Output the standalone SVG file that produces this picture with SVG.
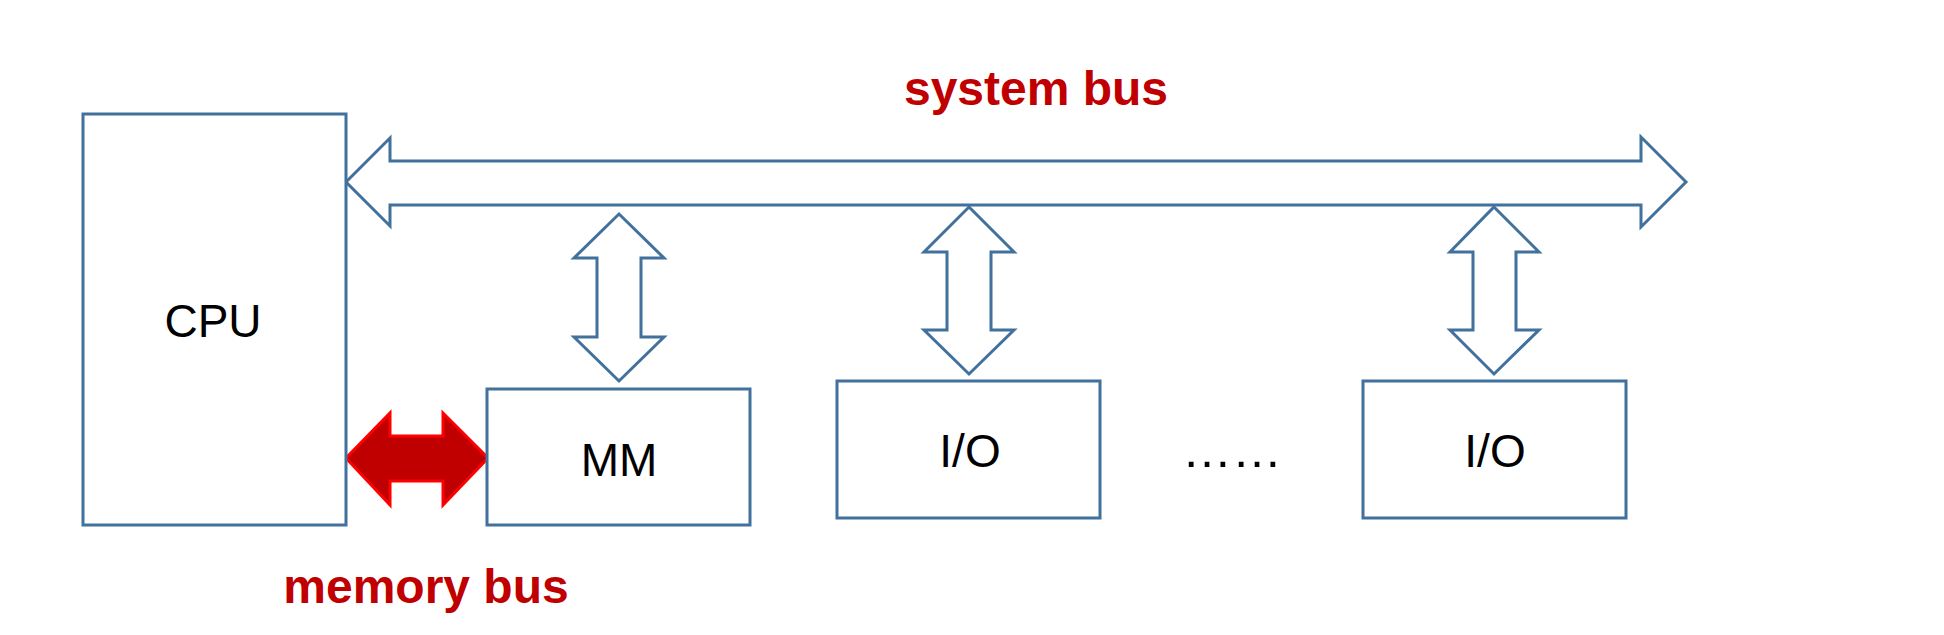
<svg xmlns="http://www.w3.org/2000/svg" width="1944" height="635" viewBox="0 0 1944 635">
<style>
.box{fill:#fff;stroke:#41719C;stroke-width:3}
.arr{fill:#fff;stroke:#41719C;stroke-width:3;stroke-linejoin:miter}
.lbl{font-family:"Liberation Sans",Arial,sans-serif;font-size:46px;fill:#000;text-anchor:middle}
.red{font-family:"Liberation Sans",Arial,sans-serif;font-size:48px;font-weight:bold;fill:#C00000;text-anchor:middle}
</style>
<rect width="1944" height="635" fill="#fff"/>
<g id="connectors">
<path class="arr" d="M346,182 L390,138 L390,161 L1641,161 L1641,137 L1686,182 L1641,227 L1641,205 L390,205 L390,226 Z"/>
<path class="arr" d="M619,214 L664,258 L641,258 L641,337 L664,337 L619,381 L574,337 L597,337 L597,258 L574,258 Z"/>
<path class="arr" d="M969,207 L1014,252 L991,252 L991,330 L1014,330 L969,374 L924,330 L947,330 L947,252 L924,252 Z"/>
<path class="arr" d="M1494,207 L1539,252 L1516,252 L1516,330 L1539,330 L1494,374 L1450,330 L1473,330 L1473,252 L1450,252 Z"/>
<path d="M346,458 L390,413 L390,436 L443,436 L443,413 L488,458 L443,505 L443,481 L390,481 L390,505 Z" fill="#C00000" stroke="#FF0000" stroke-width="3"/>
</g>
<g id="cpu">
<rect class="box" x="83" y="114" width="263" height="411"/>
<text class="lbl" x="213" y="337">CPU</text>
</g>
<g id="mm">
<rect class="box" x="487" y="389" width="263" height="136"/>
<text class="lbl" x="619" y="476">MM</text>
</g>
<g id="io1">
<rect class="box" x="837" y="381" width="263" height="137"/>
<text class="lbl" x="970" y="467">I/O</text>
</g>
<g id="io2">
<rect class="box" x="1363" y="381" width="263" height="137"/>
<text class="lbl" x="1495" y="467">I/O</text>
</g>
<g id="labels">
<text class="red" x="1036" y="105">system bus</text>
<text class="red" x="426" y="603">memory bus</text>
<text class="lbl" x="1232" y="467" style="font-size:50px">……</text>
</g>
</svg>
